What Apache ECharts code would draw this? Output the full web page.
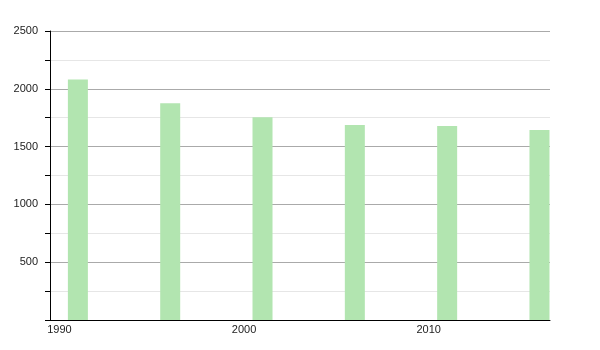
<!DOCTYPE html>
<html>
<head>
<meta charset="utf-8">
<script src="https://cdn.jsdelivr.net/npm/echarts@6/dist/echarts.min.js"></script>
<style>html,body{margin:0;padding:0;background:#fff}#c{width:600px;height:350px}</style>
</head>
<body>
<div id="c"></div>
<script>
var years = [1991, 1996, 2001, 2006, 2011, 2016];
var population = [2080, 1875, 1753, 1687, 1678, 1644];
var xTickLabels = [1990, 2000, 2010];
var yTicks = [0, 500, 1000, 1500, 2000, 2500];

var chart = echarts.init(document.getElementById('c'), null, {renderer: 'canvas'});
chart.setOption({
  animation: false,
  grid: {left: 50, top: 31, right: 50, bottom: 30},
  xAxis: {
    type: 'value', min: 1989.49, max: 2016.57,
    axisLine: {show: true, lineStyle: {color: '#000', width: 1}},
    axisTick: {show: false},
    splitLine: {show: false},
    axisLabel: {customValues: xTickLabels, margin: 4, color: '#222', fontSize: 11,
      fontFamily: 'Liberation Sans, Arial, sans-serif', formatter: function (v) { return String(v); }}
  },
  yAxis: {
    type: 'value', min: yTicks[0], max: yTicks[yTicks.length - 1], interval: 500,
    axisLine: {show: true, lineStyle: {color: '#000', width: 1}},
    axisTick: {show: true, length: 5, lineStyle: {color: '#000'}},
    minorTick: {show: true, splitNumber: 2, length: 5, lineStyle: {color: '#000'}},
    splitLine: {show: true, lineStyle: {color: '#aaa', width: 1}},
    minorSplitLine: {show: true, lineStyle: {color: '#e6e6e6', width: 1}},
    axisLabel: {margin: 12, color: '#222', fontSize: 11, fontFamily: 'Liberation Sans, Arial, sans-serif',
      formatter: function (v) { return v === 0 ? '' : String(v); }}
  },
  series: [{
    type: 'bar',
    data: years.map(function (y, i) { return [y, population[i]]; }),
    barWidth: 20,
    itemStyle: {color: '#b2e5b0'},
    z: 3
  }]
});
</script>
</body>
</html>
